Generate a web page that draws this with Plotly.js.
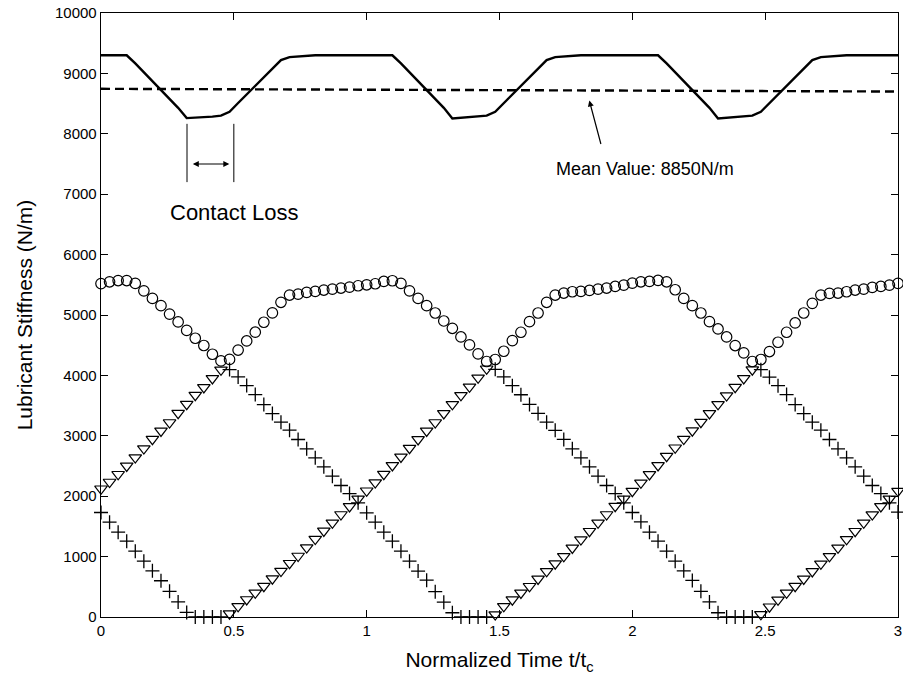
<!DOCTYPE html>
<html>
<head>
<meta charset="utf-8">
<script src="https://cdn.plot.ly/plotly-3.0.1.min.js"></script>
<style>html,body{margin:0;padding:0;background:#fff;}#chart{width:903px;height:686px;}</style>
</head>
<body>
<div id="chart"></div>
<script>
// Normalized time samples (step 1/31)
const timeSteps = 93;
const timeEnd = 3;

// Circles (o)
const circleValues = [
 5520,5550,5570,5570,5523,5400,5275,5155,5015,4885,4745,4615,4495,4350,4240,4265,4420,4570,4715,4880,5035,5210,5330,5346,5374,5391,5413,5429,5446,5462,5484,
 5500,5517,5556,5567,5523,5400,5275,5155,5033,4901,4780,4637,4505,4356,4230,4263,4400,4576,4714,4890,5033,5210,5330,5363,5385,5391,5407,5429,5446,5473,5495,
 5528,5550,5556,5572,5550,5418,5275,5155,5033,4890,4769,4637,4494,4373,4230,4263,4395,4549,4714,4868,5033,5193,5330,5358,5363,5385,5413,5429,5457,5473,5495,
 5523];

// Triangles (v)
const triangleValues = [
 2123,2235,2363,2501,2640,2789,2944,3081,3220,3375,3524,3673,3801,3950,4093,55,176,290,400,510,635,760,890,1010,1150,1290,1425,1559,1697,1830,1957,
 2090,2225,2365,2509,2650,2795,2940,3080,3220,3370,3520,3670,3810,3960,4110,40,176,287,398,509,630,756,883,1005,1144,1282,1420,1559,1697,1835,1957,
 2083,2222,2360,2509,2663,2802,2945,3085,3225,3370,3520,3665,3805,3950,4095,45,170,285,400,510,630,755,880,1005,1145,1285,1420,1560,1695,1830,1955,
 2085];

// Crosses (+)
const crossValues = [
 1730,1570,1405,1255,1090,925,765,600,425,250,75,0,0,0,0,4097,3975,3832,3683,3517,3368,3225,3093,2939,2785,2636,2487,2331,2177,2044,1890,
 1725,1570,1404,1256,1090,925,760,610,420,245,70,0,0,0,0,4100,3975,3830,3680,3520,3370,3225,3090,2940,2785,2636,2487,2331,2177,2044,1890,
 1730,1575,1405,1255,1090,925,765,605,425,250,70,0,0,0,0,4095,3970,3830,3683,3517,3368,3225,3093,2939,2785,2636,2487,2331,2177,2044,1890,
 1737];

// Total stiffness (solid line)
const totalValues = [
 9300,9300,9300,9300,9165,9020,8870,8725,8580,8430,8260,8265,8275,8285,8300,8365,8510,8650,8800,8940,9080,9220,9270,9280,9295,9300,9300,9300,9300,9300,9300,
 9300,9300,9300,9300,9165,9020,8870,8725,8580,8430,8255,8265,8275,8285,8300,8365,8510,8650,8800,8940,9080,9220,9270,9280,9295,9300,9300,9300,9300,9300,9300,
 9300,9300,9300,9300,9165,9020,8870,8725,8580,8430,8255,8265,8275,8285,8300,8365,8510,8650,8800,8940,9080,9220,9270,9280,9295,9300,9300,9300,9300,9300,9300,
 9300];

// Mean line (dashed)
const meanX = [0, 3];
const meanY = [8745, 8700];

// Contact loss markers
const contactLossStart = 0.3237;
const contactLossEnd = 0.5;
const contactLossTop = 8165;
const contactLossBottom = 7200;
const contactArrowY = 7500;

const timeValues = [];
for (let i = 0; i <= timeSteps; i++) timeValues.push(i * timeEnd / timeSteps);

const font = '"Liberation Sans", Arial, Helvetica, sans-serif';

const traces = [
  {x: timeValues, y: totalValues, mode: 'lines', line: {color: '#000', width: 2.4}, cliponaxis: false},
  {x: meanX, y: meanY, mode: 'lines', line: {color: '#000', width: 2.4, dash: '9px,5px'}},
  {x: timeValues, y: circleValues, mode: 'markers', cliponaxis: false,
   marker: {symbol: 'circle-open', size: 10.5, color: '#000', line: {width: 1.2, color: '#000'}}},
  {x: timeValues, y: triangleValues, mode: 'markers', cliponaxis: false,
   marker: {symbol: 'triangle-down-open', size: 11, color: '#000', line: {width: 1.2, color: '#000'}}},
  {x: timeValues, y: crossValues, mode: 'markers', cliponaxis: false,
   marker: {symbol: 'cross-thin-open', size: 10, color: '#000', line: {width: 1.3, color: '#000'}}}
];

const axisCommon = {
  showgrid: false, zeroline: false, showline: true, linecolor: '#000', linewidth: 1.3,
  mirror: 'ticks', ticks: 'inside', ticklen: 7, tickwidth: 1, tickcolor: '#000',
  tickfont: {family: font, size: 15, color: '#000'}
};

const layout = {
  width: 903, height: 686,
  margin: {l: 101, r: 5, t: 13, b: 69},
  paper_bgcolor: '#fff', plot_bgcolor: '#fff',
  showlegend: false,
  font: {family: font, color: '#000'},
  xaxis: Object.assign({}, axisCommon, {
    range: [0, 3], dtick: 0.5, tick0: 0,
    title: {text: 'Normalized Time t/t<sub>c</sub>', font: {family: font, size: 21, color: '#000'}, standoff: 14}
  }),
  yaxis: Object.assign({}, axisCommon, {
    range: [0, 10000], dtick: 1000, tick0: 0, tickformat: 'd',
    title: {text: 'Lubricant Stiffness (N/m)', font: {family: font, size: 21, color: '#000'}, standoff: 16}
  }),
  shapes: [
    {type: 'line', xref: 'x', yref: 'y', x0: contactLossStart, x1: contactLossStart, y0: contactLossBottom, y1: contactLossTop, line: {color: '#000', width: 1}},
    {type: 'line', xref: 'x', yref: 'y', x0: contactLossEnd, x1: contactLossEnd, y0: contactLossBottom, y1: contactLossTop, line: {color: '#000', width: 1}}
  ],
  annotations: [
    {x: 0.483, y: contactArrowY, xref: 'x', yref: 'y', ax: -38, ay: 0, axref: 'pixel', ayref: 'pixel',
     showarrow: true, arrowhead: 2, startarrowhead: 2, arrowside: 'end+start', arrowsize: 1, startarrowsize: 1, arrowwidth: 1.2, arrowcolor: '#000', text: ''},
    {x: 0.5, y: 6700, xref: 'x', yref: 'y', text: 'Contact Loss', showarrow: false,
     font: {family: font, size: 22, color: '#000'}},
    {x: 1.838, y: 8551, xref: 'x', yref: 'y', ax: 12, ay: 45, showarrow: true, arrowhead: 2, arrowsize: 1, arrowwidth: 1.2, arrowcolor: '#000', text: ''},
    {x: 2.046, y: 7418, xref: 'x', yref: 'y', text: 'Mean Value: 8850N/m', showarrow: false,
     font: {family: font, size: 18, color: '#000'}}
  ]
};

Plotly.newPlot('chart', traces, layout, {displayModeBar: false, staticPlot: true});
</script>
</body>
</html>
